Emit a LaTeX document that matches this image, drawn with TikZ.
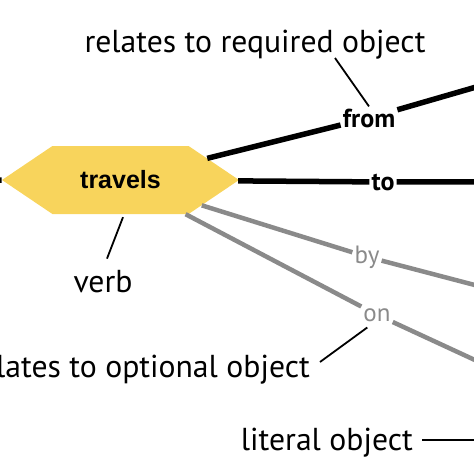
\documentclass[tikz,border=0pt]{standalone}
\usepackage{fontspec}
\setmainfont{PT Sans}
\newfontfamily\verbfont{Liberation Sans}
\usetikzlibrary{shapes.symbols}
\definecolor{verbyellow}{HTML}{F8D45C}
\definecolor{optgray}{HTML}{8A8A8A}
\tikzset{
  reqline/.style={line width=5.5pt},
  optline/.style={line width=4.5pt, optgray},
  pointer/.style={line width=1.8pt},
  reqlbl/.style={inner sep=2pt, font=\fontsize{26}{30}\selectfont\bfseries},
  optlbl/.style={inner sep=2pt, text=optgray, font=\fontsize{25}{30}\selectfont},
  note/.style={inner sep=0pt, font=\fontsize{31.7}{36}\selectfont},
}
\begin{document}
\begin{tikzpicture}[x=1pt,y=-1pt]
    \useasboundingbox (0,0) rectangle (474,474);
    %% verb
    \node[signal, signal to=west and east, signal pointer angle=68,
        fill=verbyellow, minimum width=237pt, minimum height=68pt, inner sep=0pt]
        (travels) at (120.5,180) {\verbfont\bfseries\fontsize{25}{28}\selectfont travels};
    %% free ends
    \coordinate (leftend) at (-30,180);
    \coordinate (fromend) at (490,83);
    \coordinate (toend) at (490,182);
    \coordinate (byend) at (490,289);
    \coordinate (onend) at (490,367);
    \coordinate (litend) at (490,440);
    %% edge labels
    \node[reqlbl, anchor=base] (from) at (369,127) {from};
    \node[reqlbl, anchor=base] (to) at (383,190) {to};
    \node[optlbl, anchor=base] (by) at (367,263) {by};
    \node[optlbl, anchor=base] (on) at (377,321) {on};
    %% edges
    \draw[reqline] (leftend) -- (travels);
    \draw[reqline] (travels) -- (from) -- (fromend);
    \draw[reqline] (travels) -- (to) -- (toend);
    \draw[optline] (travels) -- (by) -- (byend);
    \draw[optline] (travels) -- (on) -- (onend);
    %% notes
    \node[note, anchor=base] (reqtxt) at (255,52) {relates to required object};
    \draw[pointer] ([xshift=80pt,yshift=-6pt]reqtxt.base) -- (from.north);
    \node[note, anchor=base] (verbtxt) at (103,292) {verb};
    \draw[pointer] ([xshift=4pt,yshift=11pt]verbtxt.north) -- ([xshift=2.5pt,yshift=-3pt]travels.south);
    \node[note, anchor=base east] (opttxt) at (310,377) {relates to optional object};
    \draw[pointer] ([xshift=10pt,yshift=15pt]opttxt.base east) -- ([xshift=6pt,yshift=-4pt]on.south west);
    \node[note, anchor=base east] (littxt) at (413,450) {literal object};
    \draw[pointer] ([xshift=9pt,yshift=10pt]littxt.base east) -- (litend);
\end{tikzpicture}
\end{document}
